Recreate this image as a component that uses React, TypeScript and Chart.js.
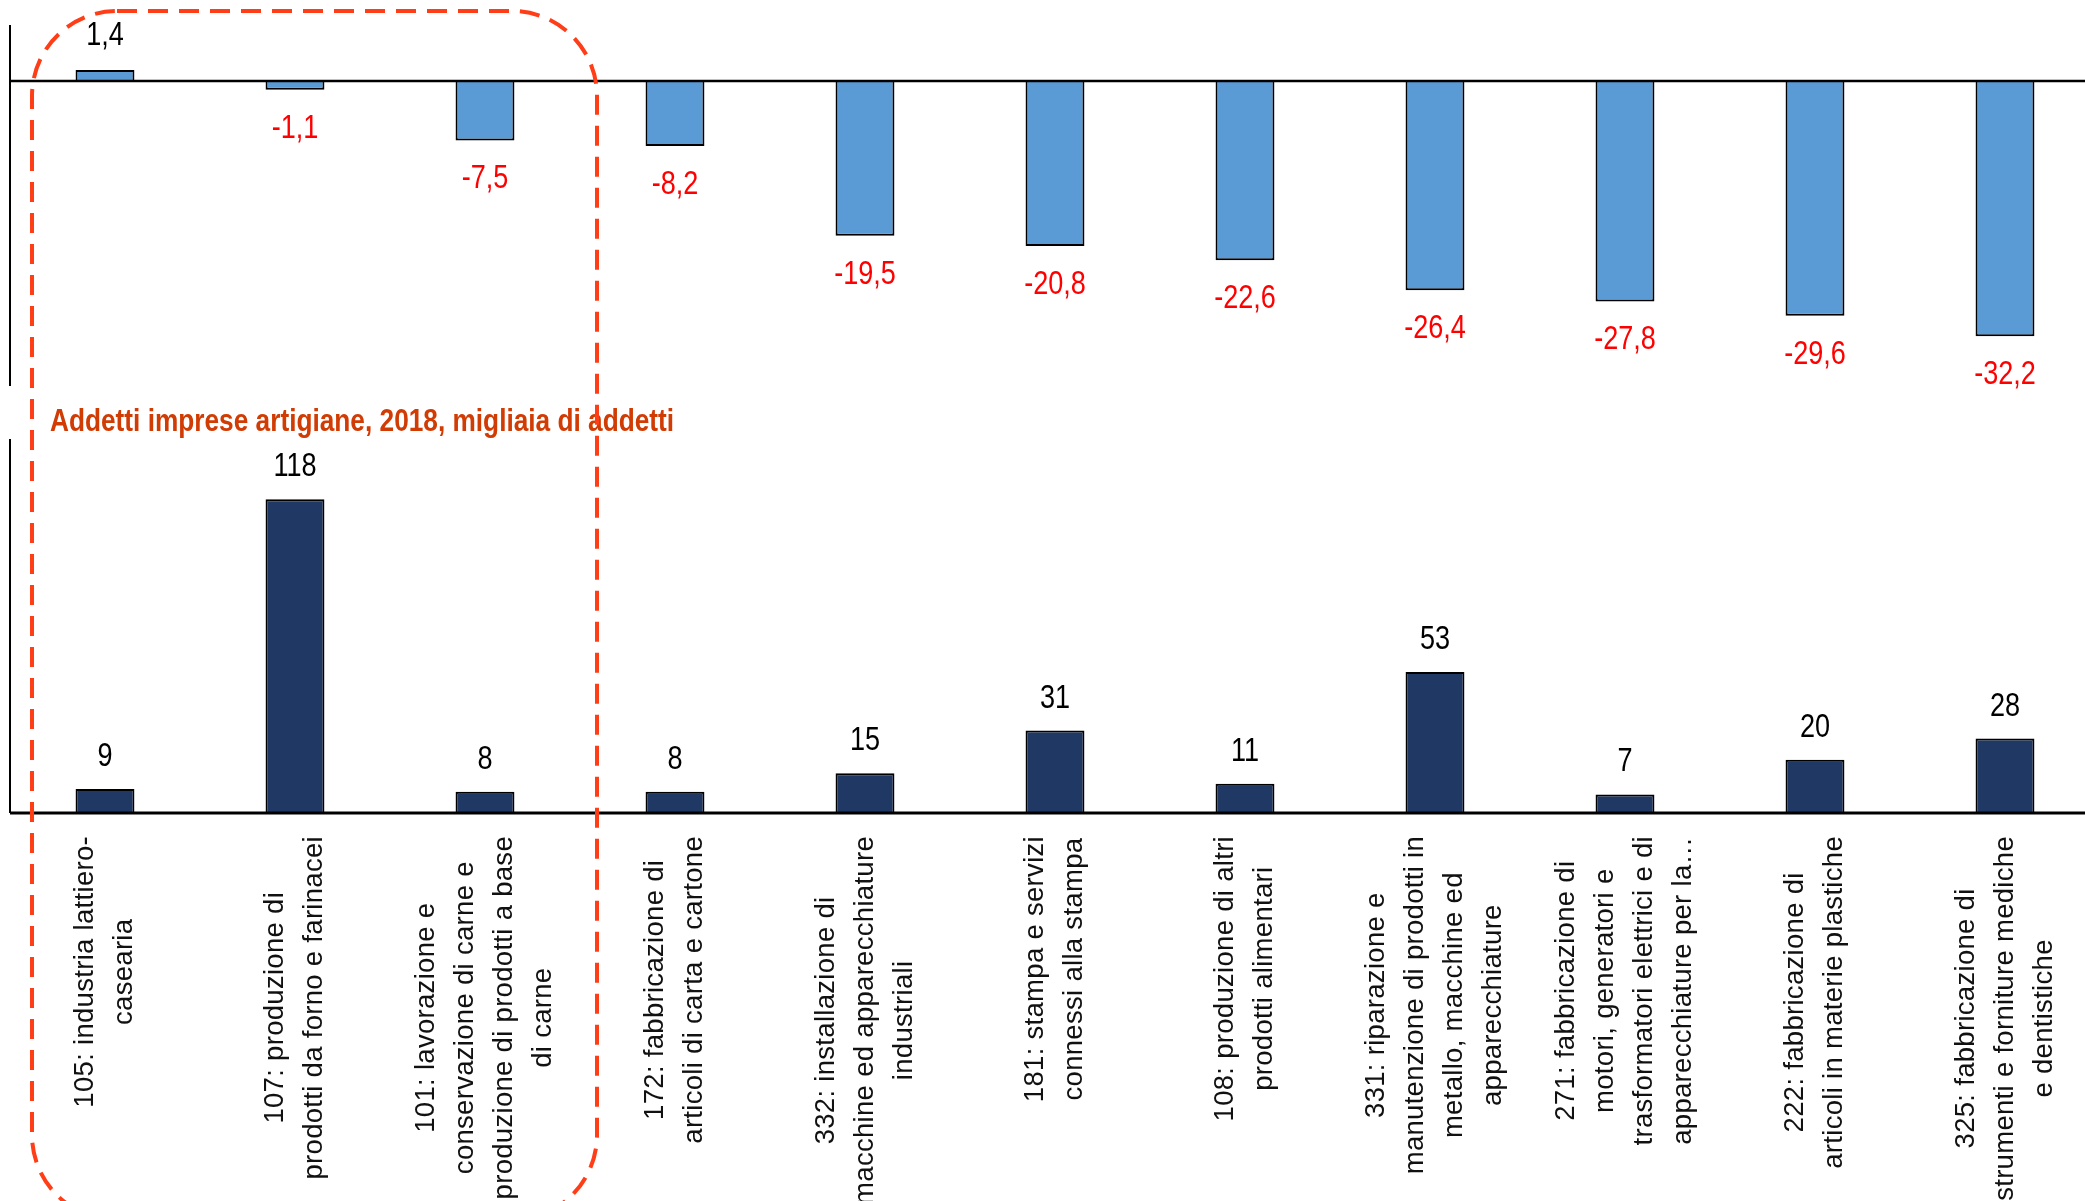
import React, { useEffect, useRef } from 'react';
import { Chart, registerables } from 'chart.js';

Chart.register(...registerables);

// ---------- DATA ----------
const categoryLabels: string[][] = [
  ['105: industria lattiero-', 'casearia'],
  ['107: produzione di', 'prodotti da forno e farinacei'],
  ['101: lavorazione e', 'conservazione di carne e', 'produzione di prodotti a base', 'di carne'],
  ['172: fabbricazione di', 'articoli di carta e cartone'],
  ['332: installazione di', 'macchine ed apparecchiature', 'industriali'],
  ['181: stampa e servizi', 'connessi alla stampa'],
  ['108: produzione di altri', 'prodotti alimentari'],
  ['331: riparazione e', 'manutenzione di prodotti in', 'metallo, macchine ed', 'apparecchiature'],
  ['271: fabbricazione di', 'motori, generatori e', 'trasformatori elettrici e di', 'apparecchiature per la…'],
  ['222: fabbricazione di', 'articoli in materie plastiche'],
  ['325: fabbricazione di', 'strumenti e forniture mediche', 'e dentistiche'],
];

const variazioneValues: number[] = [1.4, -1.1, -7.5, -8.2, -19.5, -20.8, -22.6, -26.4, -27.8, -29.6, -32.2];
const addettiValues: number[] = [9, 118, 8, 8, 15, 31, 11, 53, 7, 20, 28];

const bottomTitle = 'Addetti imprese artigiane, 2018, migliaia di addetti';

const topRange = { min: -38.46, max: 7.06 };
const bottomRange = { min: 0, max: 140.7 };

// ---------- STYLE ----------
const LIGHT_BLUE = '#5B9BD5';
const NAVY = '#203864';
const NEG_RED = '#FF0000';
const TITLE_COLOR = '#D13B04';
const DASH_COLOR = '#FF3D17';

let narrowChecked = false;
let narrowAvailable = false;
function hasNarrow(ctx: CanvasRenderingContext2D): boolean {
  if (narrowChecked) return narrowAvailable;
  ctx.save();
  ctx.font = "40px 'Liberation Sans Narrow', monospace";
  const a = ctx.measureText('abcdefghij 0123').width;
  ctx.font = '40px monospace';
  const b = ctx.measureText('abcdefghij 0123').width;
  ctx.restore();
  narrowAvailable = Math.abs(a - b) > 0.5;
  narrowChecked = true;
  return narrowAvailable;
}

function drawNarrow(
  ctx: CanvasRenderingContext2D,
  text: string,
  x: number,
  y: number,
  size: number,
  bold: boolean,
  align: CanvasTextAlign,
  color: string
) {
  ctx.save();
  ctx.fillStyle = color;
  ctx.textAlign = align;
  ctx.textBaseline = 'alphabetic';
  if (hasNarrow(ctx)) {
    ctx.font = `${bold ? 'bold ' : ''}${size}px 'Liberation Sans Narrow', 'Arial Narrow', sans-serif`;
    ctx.fillText(text, x, y);
  } else {
    ctx.translate(x, y);
    ctx.scale(0.82, 1);
    ctx.font = `${bold ? 'bold ' : ''}${size}px 'Liberation Sans', Arial, sans-serif`;
    ctx.fillText(text, 0, 0);
  }
  ctx.restore();
}

const fmt = (v: number) => v.toFixed(1).replace('.', ',');

const topDecor = {
  id: 'topDecor',
  afterDatasetsDraw(chart: any) {
    const { ctx, chartArea, scales } = chart;
    const y0 = scales.y.getPixelForValue(0);
    ctx.save();
    ctx.strokeStyle = '#000';
    ctx.lineWidth = 2;
    ctx.beginPath();
    ctx.moveTo(chartArea.left, chartArea.top);
    ctx.lineTo(chartArea.left, chartArea.bottom);
    ctx.stroke();
    ctx.lineWidth = 2.5;
    ctx.beginPath();
    ctx.moveTo(chartArea.left, y0);
    ctx.lineTo(chart.width, y0);
    ctx.stroke();
    ctx.restore();
    const meta = chart.getDatasetMeta(0);
    meta.data.forEach((bar: any, i: number) => {
      const v = variazioneValues[i];
      if (v >= 0) {
        drawNarrow(ctx, fmt(v), bar.x, bar.y - 25, 33, false, 'center', '#000');
      } else {
        drawNarrow(ctx, fmt(v), bar.x, bar.y + 48, 33, false, 'center', NEG_RED);
      }
    });
  },
};

const bottomDecor = {
  id: 'bottomDecor',
  afterDatasetsDraw(chart: any) {
    const { ctx, chartArea, scales } = chart;
    const y0 = scales.y.getPixelForValue(0);
    ctx.save();
    ctx.strokeStyle = '#000';
    ctx.lineWidth = 2;
    ctx.beginPath();
    ctx.moveTo(chartArea.left, chartArea.top);
    ctx.lineTo(chartArea.left, chartArea.bottom);
    ctx.stroke();
    ctx.lineWidth = 3;
    ctx.beginPath();
    ctx.moveTo(chartArea.left, y0);
    ctx.lineTo(chart.width, y0);
    ctx.stroke();
    ctx.restore();

    const meta = chart.getDatasetMeta(0);
    meta.data.forEach((bar: any, i: number) => {
      drawNarrow(ctx, String(addettiValues[i]), bar.x, bar.y - 23, 33, false, 'center', '#000');
    });

    // section title
    drawNarrow(ctx, bottomTitle, 50, 31, 32, true, 'left', TITLE_COLOR);

    // rotated category labels
    const xs = scales.x;
    const yTop = y0 + 23;
    const lh = 39;
    ctx.save();
    ctx.fillStyle = '#111';
    ctx.font = "27.5px 'Liberation Sans', Arial, sans-serif";
    try {
      (ctx as any).letterSpacing = '0.3px';
    } catch (e) {
      /* ignore */
    }
    categoryLabels.forEach((lines, i) => {
      const cx = xs.getPixelForValue(i);
      let maxW = 0;
      lines.forEach((l) => {
        maxW = Math.max(maxW, ctx.measureText(l).width);
      });
      ctx.save();
      ctx.translate(cx, yTop);
      ctx.rotate(-Math.PI / 2);
      ctx.textAlign = 'center';
      ctx.textBaseline = 'middle';
      const n = lines.length;
      lines.forEach((l, j) => {
        ctx.fillText(l, -maxW / 2, (j - (n - 1) / 2) * lh);
      });
      ctx.restore();
    });
    ctx.restore();
  },
};

export default function App() {
  const topRef = useRef<HTMLCanvasElement>(null);
  const bottomRef = useRef<HTMLCanvasElement>(null);
  const overlayRef = useRef<HTMLCanvasElement>(null);

  useEffect(() => {
    const labels = categoryLabels.map((l) => l.join(' '));
    const common = {
      responsive: false,
      animation: false as const,
      maintainAspectRatio: false,
      plugins: { legend: { display: false }, tooltip: { enabled: false }, title: { display: false } },
    };

    const top = new Chart(topRef.current!, {
      type: 'bar',
      data: {
        labels,
        datasets: [
          {
            data: variazioneValues,
            backgroundColor: LIGHT_BLUE,
            borderColor: '#000',
            borderWidth: 2,
            barPercentage: 0.31,
            categoryPercentage: 1,
          },
        ],
      },
      options: {
        ...common,
        layout: { padding: { left: 10, right: 10, top: 25, bottom: 14 } },
        scales: {
          x: { display: false, offset: true },
          y: { display: false, min: topRange.min, max: topRange.max },
        },
      },
      plugins: [topDecor],
    });

    const bottom = new Chart(bottomRef.current!, {
      type: 'bar',
      data: {
        labels,
        datasets: [
          {
            data: addettiValues,
            backgroundColor: NAVY,
            borderColor: '#000',
            borderWidth: 2,
            barPercentage: 0.31,
            categoryPercentage: 1,
          },
        ],
      },
      options: {
        ...common,
        layout: { padding: { left: 10, right: 10, top: 39, bottom: 388 } },
        scales: {
          x: { display: false, offset: true },
          y: { display: false, min: bottomRange.min, max: bottomRange.max },
        },
      },
      plugins: [bottomDecor],
    });

    // dashed highlight box (annotation overlay)
    const oc = overlayRef.current!;
    const ctx = oc.getContext('2d')!;
    ctx.clearRect(0, 0, oc.width, oc.height);
    const x0 = 32, x1 = 597, y0 = 11, y1 = 1220, r = 85;
    ctx.save();
    ctx.strokeStyle = DASH_COLOR;
    ctx.lineWidth = 4;
    ctx.setLineDash([20, 11]);
    ctx.beginPath();
    ctx.moveTo(x0 + r, y0);
    ctx.lineTo(x1 - r, y0);
    ctx.arcTo(x1, y0, x1, y0 + r, r);
    ctx.lineTo(x1, y1 - r);
    ctx.arcTo(x1, y1, x1 - r, y1, r);
    ctx.lineTo(x0 + r, y1);
    ctx.arcTo(x0, y1, x0, y1 - r, r);
    ctx.lineTo(x0, y0 + r);
    ctx.arcTo(x0, y0, x0 + r, y0, r);
    ctx.closePath();
    ctx.stroke();
    ctx.restore();

    return () => {
      top.destroy();
      bottom.destroy();
    };
  }, []);

  return (
    <div
      style={{
        position: 'fixed',
        left: 0,
        top: 0,
        width: 2085,
        height: 1201,
        overflow: 'hidden',
        background: '#fff',
      }}
    >
      <canvas ref={topRef} width={2110} height={400} style={{ position: 'absolute', left: 0, top: 0 }} />
      <canvas ref={bottomRef} width={2110} height={801} style={{ position: 'absolute', left: 0, top: 400 }} />
      <canvas
        ref={overlayRef}
        width={2085}
        height={1201}
        style={{ position: 'absolute', left: 0, top: 0, pointerEvents: 'none' }}
      />
    </div>
  );
}
